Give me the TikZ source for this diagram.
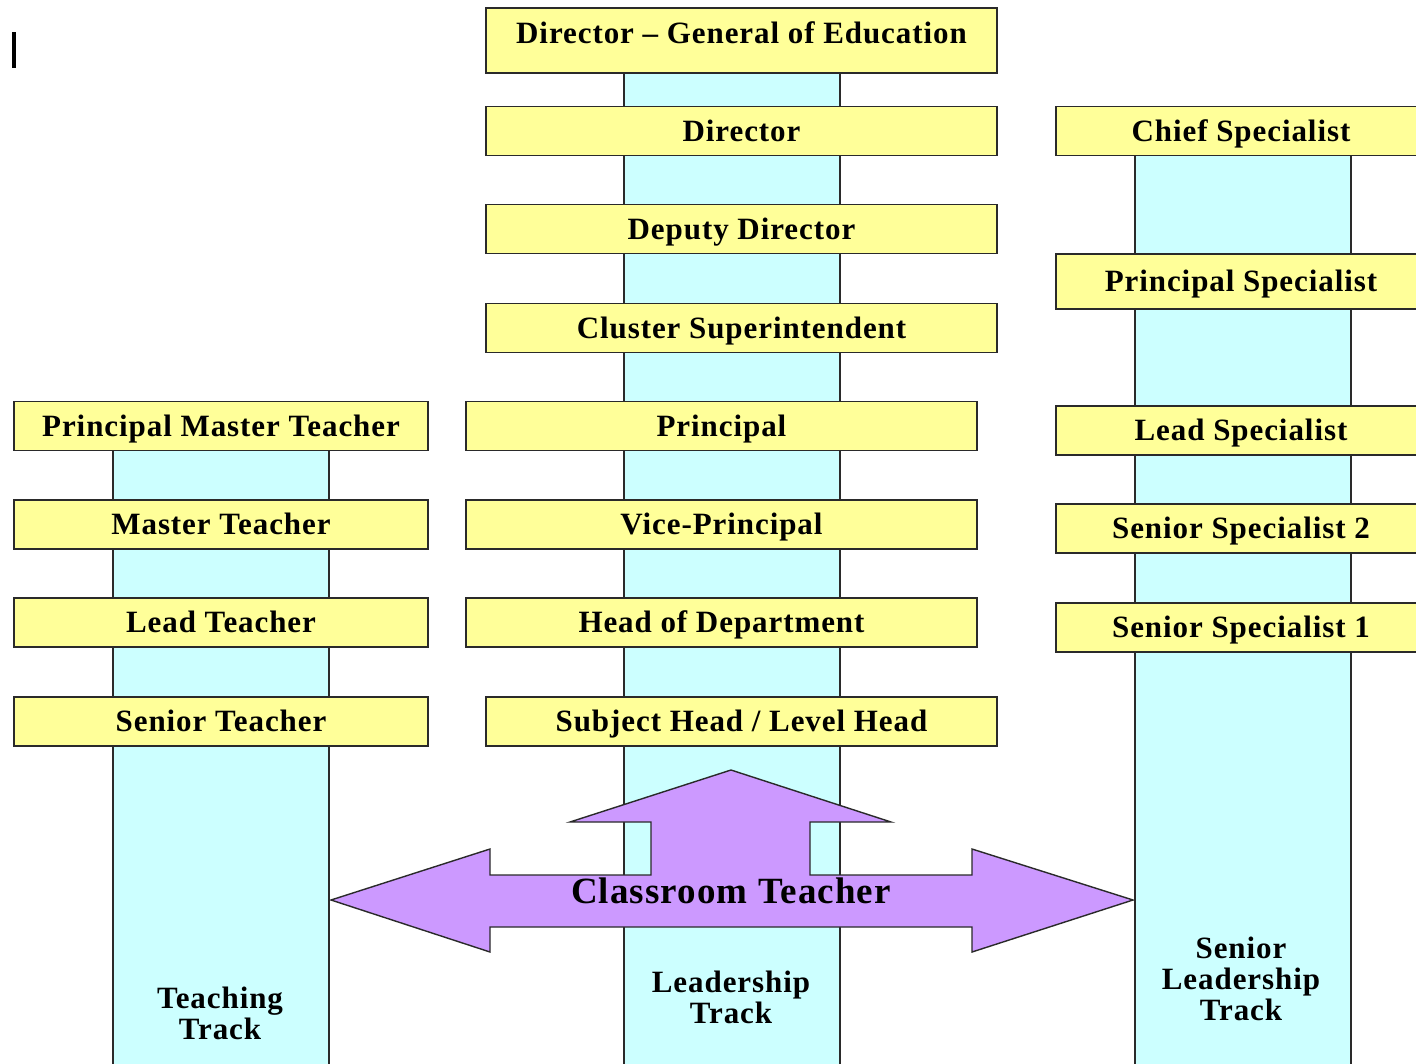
\documentclass[tikz,border=0pt]{standalone}
\usepackage{fontspec}
\setmainfont{Liberation Serif}
\newfontfamily\spacedserif[LetterSpace=3]{Liberation Serif}
\definecolor{rankfill}{HTML}{FFFF99}
\definecolor{trackfill}{HTML}{CCFFFF}
\definecolor{arrowfill}{HTML}{CC99FF}
\definecolor{edge}{HTML}{2A2A2A}
\begin{document}
\begin{tikzpicture}[x=1pt,y=-1pt,
  txt/.style={font=\spacedserif\bfseries\fontsize{31}{31}\selectfont, inner sep=0pt},
  rank/.style={txt, draw=edge, fill=rankfill, line width=1.8pt,
    text height=26pt, text depth=6pt},
  lrank/.style={rank, minimum width=414pt, minimum height=49pt},
  mrank/.style={rank, minimum width=511pt, minimum height=49pt},
  rrank/.style={rank, minimum width=370pt, minimum height=49pt},
  track/.style={draw=edge, fill=trackfill, line width=1.8pt},
  tracklabel/.style={txt, align=center},
  bigarrow/.style={draw=edge, fill=arrowfill, line width=1.4pt, line join=miter}]

\clip (0,0) rectangle (1416,1063);
\fill[white] (0,0) rectangle (1416,1063);

% cursor mark
\fill[black] (12,32) rectangle (16,68);

% the three track columns
\path[track] (113,450) rectangle (329,1080);
\path[track] (624,73) rectangle (840,1080);
\path[track] (1135,155) rectangle (1351,1080);

% teaching track
\node[lrank] (pmt) at (221,426) {Principal Master Teacher};
\node[lrank] (mt)  at (221,524.5) {Master Teacher};
\node[lrank] (lt)  at (221,622.5) {Lead Teacher};
\node[lrank] (st)  at (221,721.5) {Senior Teacher};

% leadership track
\node[mrank, minimum height=65pt, text depth=21pt] (dg) at (741.5,40.5) {Director – General of Education};
\node[mrank] (dir)  at (741.5,131) {Director};
\node[mrank] (dep)  at (741.5,229) {Deputy Director};
\node[mrank] (cs)   at (741.5,328) {Cluster Superintendent};
\node[mrank] (prin) at (721.5,426) {Principal};
\node[mrank] (vp)   at (721.5,524.5) {Vice-Principal};
\node[mrank] (hod)  at (721.5,622.5) {Head of Department};
\node[mrank] (sh)   at (741.5,721.5) {Subject Head / Level Head};

% senior specialist track
\node[rrank] (chief) at (1241,131) {Chief Specialist};
\node[rrank, minimum height=55pt] (ps) at (1241,281.5) {Principal Specialist};
\node[rrank] (lsp)  at (1241,430.5) {Lead Specialist};
\node[rrank] (ss2)  at (1241,528.5) {Senior Specialist 2};
\node[rrank] (ss1)  at (1241,627.5) {Senior Specialist 1};

% classroom teacher arrow
\draw[bigarrow] (731,770) -- (891,822) -- (810,822) -- (810,875) -- (972,875)
  -- (972,849) -- (1133,900) -- (972,952) -- (972,927) -- (490,927)
  -- (490,952) -- (331,900) -- (490,849) -- (490,875) -- (651,875)
  -- (651,822) -- (570,822) -- cycle;
\node[txt, font=\spacedserif\bfseries\fontsize{37}{37}\selectfont] (ct) at (731,891) {Classroom Teacher};

% track names
\node[tracklabel] (tt) at (220,1013) {Teaching\\Track};
\node[tracklabel] (lt2) at (731,997) {Leadership\\Track};
\node[tracklabel] (slt) at (1241,979) {Senior\\Leadership\\Track};
\end{tikzpicture}
\end{document}
